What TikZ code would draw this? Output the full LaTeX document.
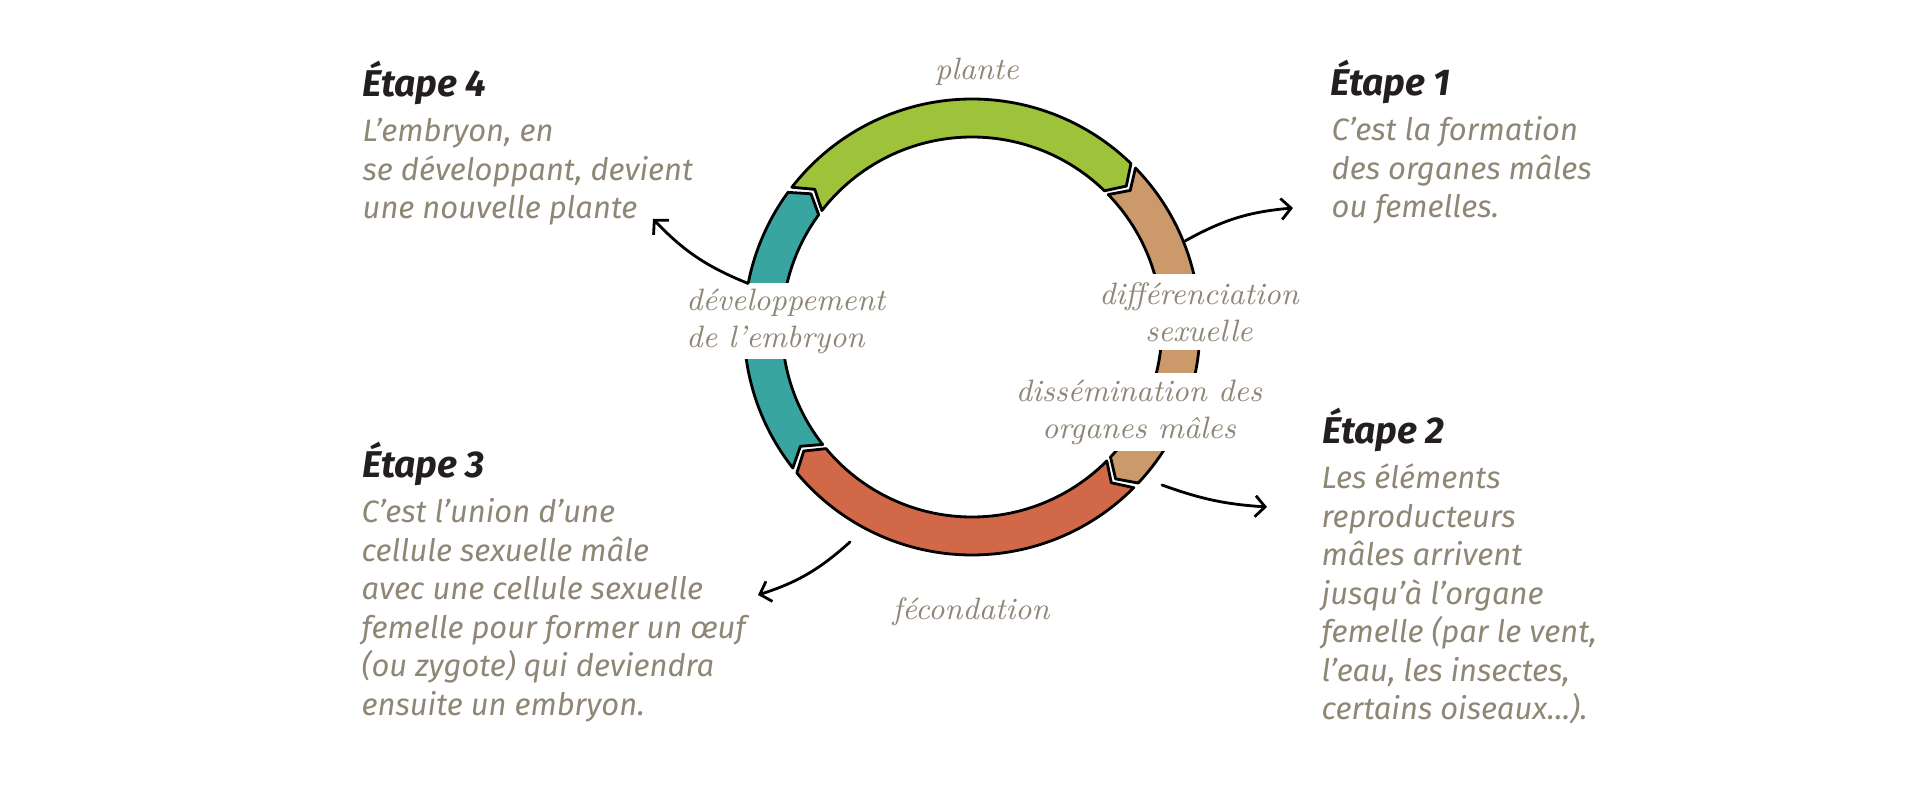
\documentclass[tikz,border=0pt]{standalone}
\usepackage{fontspec}
\newfontfamily\fira{Fira Sans}
\usetikzlibrary{arrows.meta,calc,positioning}
\definecolor{leafgreen}{RGB}{158,194,58}
\definecolor{tanbrown}{RGB}{203,153,106}
\definecolor{tealgreen}{RGB}{57,165,160}
\definecolor{rustred}{RGB}{209,104,72}
\definecolor{greytext}{RGB}{143,135,118}
\definecolor{darktext}{HTML}{231F20}

\begin{document}
\begin{tikzpicture}[x=0.01cm,y=0.01cm,
 title/.style={anchor=base west,inner sep=0,text=darktext,font=\fira\bfseries\itshape\fontsize{10.6}{13}\selectfont},
 body/.style={anchor=north west,inner sep=0,align=left,text=greytext,font=\fira\itshape\fontsize{8.8}{10.95}\selectfont},
 hand/.style={inner sep=0,text=greytext,font=\itshape\fontsize{8.8}{10.5}\selectfont},
 leader/.style={line width=.8pt,line cap=round,-{Straight Barb[length=2.8pt,width=6pt]}}]
 \useasboundingbox(0,0)rectangle(1920,784);
 \coordinate(c)at(972,457);
 % the cycle
 \begin{scope}[shift={(c)}]
 \foreach \a/\b/\col in {143/45/leafgreen,45/-44/tanbrown,-44/-141/rustred,219/143/tealgreen}
  \filldraw[fill=\col,draw=black,line width=.8pt,line join=round]
   ({\a-.8}:228)arc[start angle=\a-.8,end angle=\b+.8,radius=228]
   --({\b+.8-3.4}:209)--({\b+.8}:190)
   arc[start angle=\b+.8,end angle=\a-.8,radius=190]
   --({\a-.8-3.4}:209)--cycle;
 \end{scope}
 \node[hand](plante)at(977,712){plante};
 \node[hand,fill=white,align=left,anchor=west,inner xsep=3pt,minimum height=.75cm](devel)at(675,463){développement\\de l’embryon};
 \node[hand,fill=white,align=center,inner xsep=3pt,minimum height=.76cm](diff)at(1199,472){différenciation\\sexuelle};
 \node[hand,fill=white,align=center,inner xsep=3pt,minimum height=.78cm](dissem)at(1139,372){dissémination des\\organes mâles};
 \node[hand](fecond)at(971,172){fécondation};
 % the four steps
 \node[title](e4)at(362,687){Étape 4};
 \node[body](b4)at(362,670){\strut L’embryon, en\\se développant, devient\\une nouvelle plante};
 \node[title](e1)at(1330,689){Étape 1};
 \node[body](b1)at(1331,671){\strut C’est la formation\\des organes mâles\\ou femelles.};
 \node[title](e2)at(1322,341){Étape 2};
 \node[body](b2)at(1321,323){\strut Les éléments\\reproducteurs\\mâles arrivent\\jusqu’à l’organe\\femelle (par le vent,\\l’eau, les insectes,\\certains oiseaux…).};
 \node[title](e3)at(362,307){Étape 3};
 \node[body](b3)at(361,289){\strut C’est l’union d’une\\cellule sexuelle mâle\\avec une cellule sexuelle\\femelle pour former un œuf\\(ou zygote) qui deviendra\\ensuite un embryon.};
 % leaders
 \coordinate(s4)at($(c)+(169:228)$);\coordinate(t4)at(653,565);
 \coordinate(s1)at($(c)+(22:230)$);\coordinate(t1)at(1293,576);
 \coordinate(s2)at(1162,299);\coordinate(t2)at(1267,277);
 \coordinate(s3)at(850,242);\coordinate(t3)at(758,189);
 \draw[leader](s4)to[bend left=12](t4);
 \draw[leader](s1)to[bend left=12](t1);
 \draw[leader](s2)to[bend right=8](t2);
 \draw[leader](s3)to[bend left=12](t3);
\end{tikzpicture}
\end{document}
